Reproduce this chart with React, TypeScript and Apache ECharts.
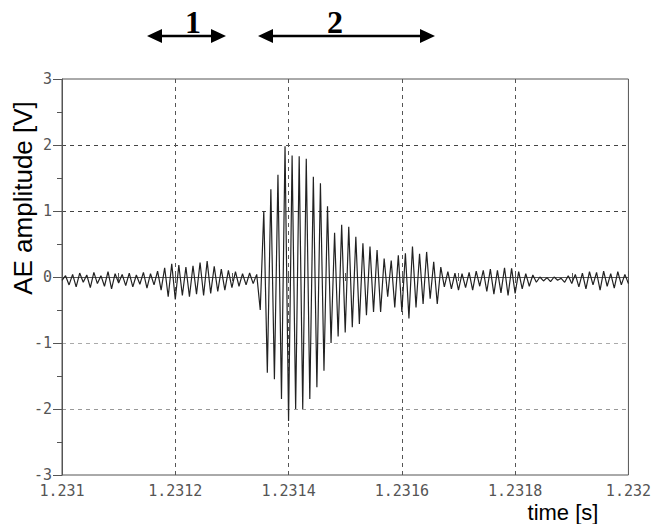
import React, { useEffect, useRef } from "react";
import * as echarts from "echarts";

// Time axis
const tStart = 1.231;
const tEnd = 1.232;
const sampleStep = 0.00000625; // s between read-off points (peaks/troughs)
const xTickLabels = ["1.231", "1.2312", "1.2314", "1.2316", "1.2318", "1.232"];
const yTickLabels = ["-3", "-2", "-1", "0", "1", "2", "3"];

// Amplitude [V], segment by segment
const preNoise = [
  -0.05, 0.02, -0.12, 0.04, -0.15, 0.06, -0.08, 0.03, -0.16, 0.07, -0.1, 0.02, -0.14, 0.08, -0.18,
  0.05, -0.09, 0.04, -0.13, 0.06, -0.15, 0.03, -0.11, 0.07, -0.17, 0.05, -0.12, 0.09, -0.2,
];
const event1 = [
  0.14, -0.3, 0.2, -0.34, 0.18, -0.28, 0.15, -0.3, 0.17, -0.26, 0.22, -0.28, 0.24, -0.25, 0.16,
  -0.22, 0.12, -0.2, 0.1, -0.16, 0.08, -0.14, 0.05, -0.12, 0.06, -0.1, 0.04,
];
const event2 = [
  -0.5, 1.0, -1.45, 1.33, -1.55, 1.55, -1.85, 1.98, -2.18, 1.84, -2.0, 1.83, -2.0, 1.79, -1.85,
  1.52, -1.67, 1.42, -1.42, 1.07, -1.0, 0.67, -0.9, 0.79, -0.84, 0.76, -0.76, 0.61, -0.71, 0.51,
  -0.58, 0.46, -0.53, 0.41, -0.53, 0.28, -0.3, 0.25, -0.46, 0.33, -0.53, 0.36, -0.63, 0.46, -0.46,
  0.35, -0.41, 0.38, -0.33, 0.23, -0.41, 0.15,
];
const postNoise = [
  -0.15, 0.08, -0.18, 0.06, -0.2, 0.05, -0.16, 0.07, -0.2, 0.09, -0.14, 0.1, -0.22, 0.12, -0.26,
  0.1, -0.24, 0.14, -0.28, 0.13, -0.25, 0.08, -0.18, 0.05, -0.14, 0.03, -0.08, 0.0, -0.06, -0.01,
  -0.07, 0.0, -0.05, -0.02, -0.08, 0.02, -0.1, 0.04, -0.15, 0.06, -0.18, 0.08, -0.12, 0.07, -0.2,
  0.09, -0.14, 0.05, -0.17, 0.08, -0.12, 0.04, -0.1,
];

const amplitude = [...preNoise, ...event1, ...event2, ...postNoise];

const regionLabels = ["1", "2"];

export default function App() {
  const ref = useRef<HTMLDivElement>(null);

  useEffect(() => {
    if (!ref.current) return;
    const chart = echarts.init(ref.current, null, { renderer: "svg" });
    const data = amplitude.map((v, i) => [tStart + i * sampleStep, v]);
    const labelFont = {
      fontFamily: "DejaVu Sans Mono",
      fontSize: 15,
      color: "#555",
    };
    const axisColor = "#555";

    const arrow = (x1: number, x2: number, y: number) => [
      {
        type: "line",
        shape: { x1: x1 + 10, y1: y, x2: x2 - 10, y2: y },
        style: { stroke: "#000", lineWidth: 2.5 },
      },
      {
        type: "polygon",
        shape: { points: [[x1, y], [x1 + 15, y - 7], [x1 + 15, y + 7]] },
        style: { fill: "#000" },
      },
      {
        type: "polygon",
        shape: { points: [[x2, y], [x2 - 15, y - 7], [x2 - 15, y + 7]] },
        style: { fill: "#000" },
      },
    ];

    chart.setOption({
      animation: false,
      grid: {
        left: 62,
        right: 23,
        top: 79,
        bottom: 49,
        show: true,
        borderColor: axisColor,
        borderWidth: 1,
      },
      xAxis: [
        {
          type: "value",
          min: tStart,
          max: tEnd,
          interval: 0.0002,
          axisLine: { lineStyle: { color: axisColor } },
          axisTick: { show: true, length: 6, lineStyle: { color: axisColor } },
          minorTick: { show: true, splitNumber: 2, length: 4, lineStyle: { color: axisColor } },
          axisLabel: {
            ...labelFont,
            margin: 8,
            formatter: (v: number) => {
              const idx = Math.round((v - tStart) / 0.0002);
              return xTickLabels[idx] ?? "";
            },
          },
          splitLine: {
            show: true,
            showMinLine: false,
            showMaxLine: false,
            lineStyle: { color: "#555", type: [4, 4], width: 1 },
          },
        },
        {
          type: "value",
          position: "bottom",
          min: tStart,
          max: tEnd,
          interval: 0.0002,
          axisLine: { show: false },
          axisTick: { show: true, inside: true, length: 6, lineStyle: { color: axisColor } },
          minorTick: { show: true, splitNumber: 2, length: 4, lineStyle: { color: axisColor } },
          axisLabel: { show: false },
          splitLine: { show: false },
        },
      ],
      yAxis: [
        {
          type: "value",
          min: -3,
          max: 3,
          interval: 1,
          axisLine: { show: true, lineStyle: { color: axisColor } },
          axisTick: { show: true, length: 9, lineStyle: { color: axisColor } },
          minorTick: { show: true, splitNumber: 2, length: 5, lineStyle: { color: axisColor } },
          axisLabel: {
            ...labelFont,
            margin: 10,
            formatter: (v: number) => {
              const idx = Math.round(v + 3);
              return yTickLabels[idx] ?? "";
            },
          },
          splitLine: {
            show: true,
            showMinLine: false,
            showMaxLine: false,
            lineStyle: {
              color: ["#999", "#aaa", "#aaa", "#444", "#444", "#aaa", "#555"],
              type: [4, 4],
              width: 1,
            },
          },
        },
        {
          type: "value",
          position: "left",
          min: -3,
          max: 3,
          interval: 1,
          axisLine: { show: false },
          axisTick: { show: false },
          minorTick: { show: true, splitNumber: 2, length: 5, lineStyle: { color: axisColor } },
          axisLabel: { show: false },
          splitLine: { show: false },
        },
      ],
      series: [
        {
          type: "line",
          xAxisIndex: 0,
          yAxisIndex: 0,
          data,
          showSymbol: false,
          symbol: "none",
          lineStyle: { color: "#222", width: 1.2 },
          z: 5,
        },
      ],
      graphic: [
        {
          type: "text",
          x: 23,
          y: 198,
          rotation: Math.PI / 2,
          style: {
            text: "AE amplitude [V]",
            fontFamily: "Liberation Sans",
            fontSize: 26,
            fill: "#000",
            textAlign: "center",
            textVerticalAlign: "middle",
          },
        },
        {
          type: "text",
          x: 563,
          y: 512,
          style: {
            text: "time [s]",
            fontFamily: "Liberation Sans",
            fontSize: 22,
            fill: "#000",
            textAlign: "center",
            textVerticalAlign: "middle",
          },
        },
        ...arrow(147, 226, 36),
        ...arrow(258, 435, 36),
        {
          type: "text",
          x: 193,
          y: 22,
          style: {
            text: regionLabels[0],
            fontFamily: "Liberation Serif",
            fontWeight: "bold",
            fontSize: 32,
            fill: "#000",
            textAlign: "center",
            textVerticalAlign: "middle",
          },
        },
        {
          type: "text",
          x: 335,
          y: 22,
          style: {
            text: regionLabels[1],
            fontFamily: "Liberation Serif",
            fontWeight: "bold",
            fontSize: 32,
            fill: "#000",
            textAlign: "center",
            textVerticalAlign: "middle",
          },
        },
      ],
    });
    return () => chart.dispose();
  }, []);

  return (
    <div
      ref={ref}
      style={{ position: "fixed", left: 0, top: 0, width: 654, height: 524, background: "#fff" }}
    />
  );
}
